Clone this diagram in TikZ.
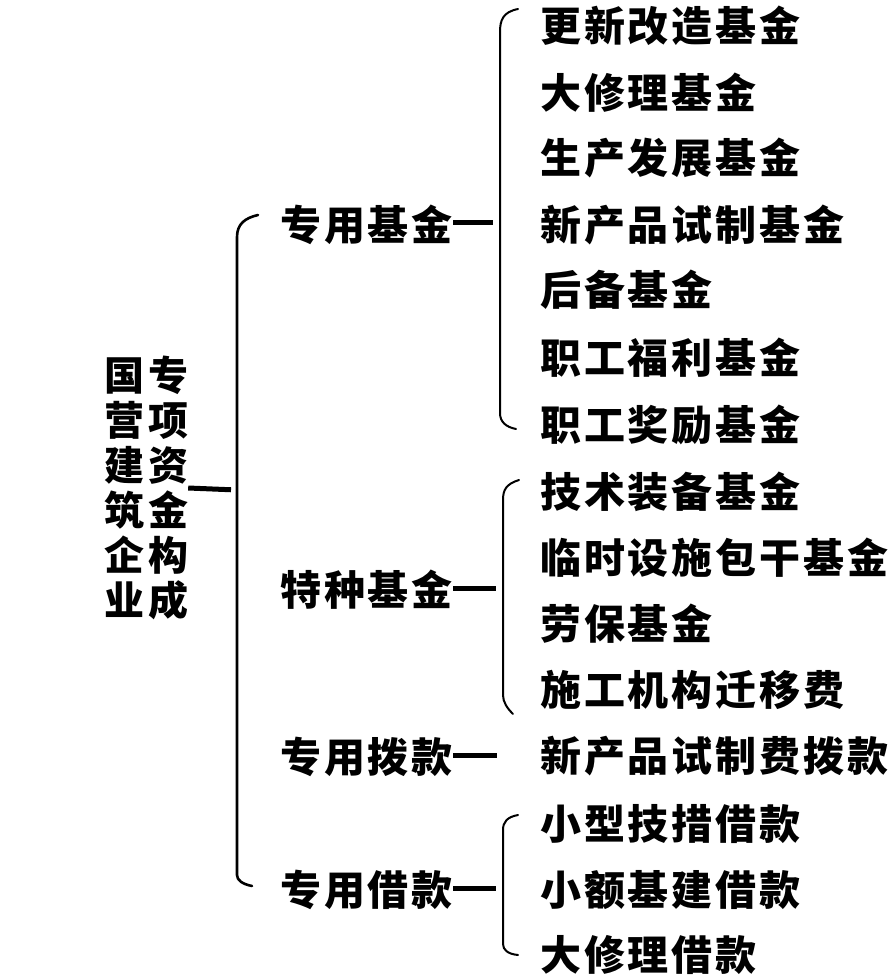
\documentclass[tikz,border=0pt]{standalone}
\usepackage{fontspec}
\newfontfamily\cjk[LetterSpace=7]{Noto Sans CJK SC}
\begin{document}
\begin{tikzpicture}[x=1pt,y=-1pt,
  txt/.style={font=\cjk\bfseries\fontsize{41}{45}\selectfont, inner sep=0pt, anchor=west},
  ttl/.style={font=\cjk\bfseries\fontsize{40}{45}\selectfont, inner sep=0pt, align=left},
  brk/.style={line width=2pt, line cap=round, line join=round},
  lbrk/.style={line width=2.6pt, line cap=round, line join=round},
  dashline/.style={line width=5pt}]
\useasboundingbox (0,0) rectangle (893,977);
% title
\node[ttl] (title) at (146,488) {国\hspace{4pt}专\\营\hspace{4pt}项\\建\hspace{4pt}资\\筑\hspace{4pt}金\\企\hspace{4pt}构\\业\hspace{4pt}成};
% left bracket
\draw[lbrk] (258,215) .. controls (245,218) and (237,224) .. (237,237) -- (237,875) .. controls (237,880) and (242,884) .. (252,886);
\coordinate (j0) at (237,490);
% level 2 labels
\node[txt] (l1) at (280,225) {专用基金};
\node[txt] (l2) at (280,590) {特种基金};
\node[txt] (l3) at (280,757) {专用拨款};
\node[txt] (l4) at (280,890) {专用借款};
% right brackets
\draw[brk] (518,9) .. controls (503,12) and (500,20) .. (500,32) -- (500,413) .. controls (500,422) and (506,427) .. (516,429);
\draw[brk] (519,480) .. controls (506,484) and (503,490) .. (503,500) -- (503,695) .. controls (503,702) and (507,708) .. (513,714);
\draw[brk] (518,815) .. controls (507,817) and (503,822) .. (503,830) -- (503,944) .. controls (503,950) and (508,954) .. (518,955);
\coordinate (j1) at (500,222);
\coordinate (j2) at (503,588);
\coordinate (e3) at (497,755);
\coordinate (j4) at (503,888);
% dashes
\draw[dashline, shorten >=6pt] (title.east) -- (j0);
\draw[dashline, shorten >=7pt] (l1.east |- j1) -- (j1);
\draw[dashline, shorten >=7pt] (l2.east |- j2) -- (j2);
\draw[dashline] (l3.east |- e3) -- (e3);
\draw[dashline, shorten >=7pt] (l4.east |- j4) -- (j4);
% items
\node[txt] (a1) at (540,26) {更新改造基金};
\node[txt] (a2) at (540,93) {大修理基金};
\node[txt] (a3) at (540,158) {生产发展基金};
\node[txt] (a4) at (540,225) {新产品试制基金};
\node[txt] (a5) at (540,290) {后备基金};
\node[txt] (a6) at (540,358) {职工福利基金};
\node[txt] (a7) at (540,425) {职工奖励基金};
\node[txt] (b1) at (540,492) {技术装备基金};
\node[txt] (b2) at (540,558) {临时设施包干基金};
\node[txt] (b3) at (540,624) {劳保基金};
\node[txt] (b4) at (540,690) {施工机构迁移费};
\node[txt] (c1) at (540,756) {新产品试制费拨款};
\node[txt] (d1) at (540,824) {小型技措借款};
\node[txt] (d2) at (540,890) {小额基建借款};
\node[txt] (d3) at (540,955) {大修理借款};
\end{tikzpicture}
\end{document}
